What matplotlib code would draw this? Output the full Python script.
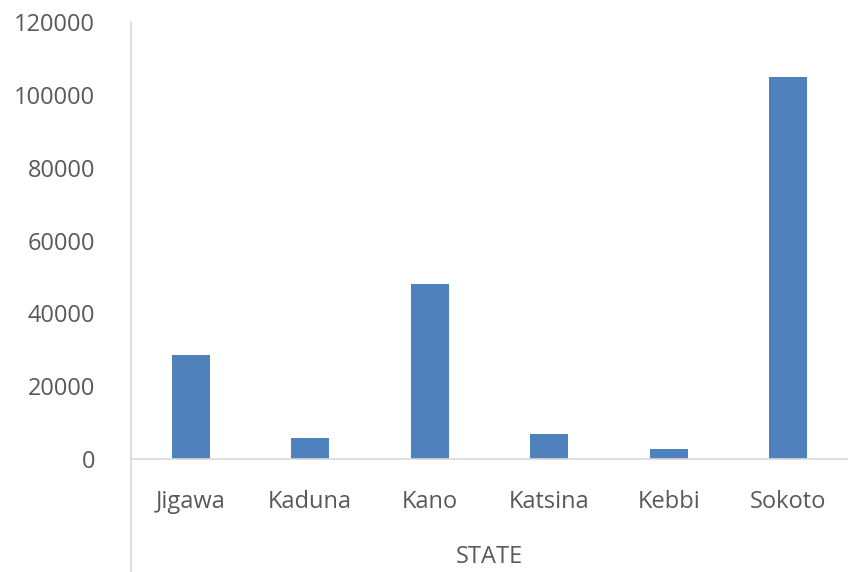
import matplotlib
matplotlib.use("Agg")
import matplotlib.pyplot as plt
from matplotlib.lines import Line2D

states = ["Jigawa", "Kaduna", "Kano", "Katsina", "Kebbi", "Sokoto"]
values = [28500, 5800, 48000, 7000, 2800, 105000]
yticks = [0, 20000, 40000, 60000, 80000, 100000, 120000]

plt.rcParams['font.family'] = ['Open Sans', 'DejaVu Sans']
W, H = 848, 572
fig = plt.figure(figsize=(W/100, H/100), dpi=100)
ax = fig.add_axes([131/W, (H-459)/H, (W-131)/W, (459-22)/H])

x = range(len(states))
ax.bar(x, values, width=0.32, color="#4F81BD")
ax.set_xlim(-0.5, len(states)-0.5)
ax.set_ylim(0, 120000)
ax.set_yticks(yticks)
ax.set_yticklabels([str(v) for v in yticks])
ax.set_xticks(list(x))
ax.set_xticklabels(states)
ax.tick_params(axis='both', length=0, labelsize=17, labelcolor="#595959")
ax.tick_params(axis='y', pad=26)
ax.tick_params(axis='x', pad=22)
for s in ['top', 'right']:
    ax.spines[s].set_visible(False)
ax.spines['left'].set_color("#D9D9D9")
ax.spines['bottom'].set_color("#D9D9D9")
ax.spines['left'].set_linewidth(1.2)
ax.spines['bottom'].set_linewidth(1.2)

fig.add_artist(Line2D([131/W, 131/W], [0, (H-459)/H], color="#D9D9D9", linewidth=1.2))
fig.text((131 + W) / 2 / W, (H-557)/H, "STATE", ha='center', va='center',
         fontsize=17, color="#595959")

fig.savefig("out.png", dpi=100)
